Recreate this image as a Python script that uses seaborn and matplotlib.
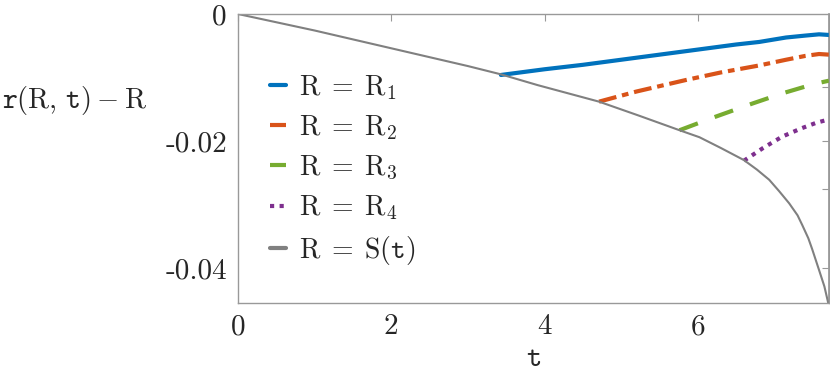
import numpy as np
import pandas as pd
import matplotlib
matplotlib.use("Agg")
from matplotlib import pyplot as plt
import seaborn as sns

# boundary curve R = S(t)
t_s = [0, 1, 2, 3, 3.43, 3.91, 4.71, 5.23, 5.76, 6.02, 6.3, 6.6, 6.77, 6.93, 7.06, 7.19,
       7.30, 7.36, 7.44, 7.49, 7.58, 7.65, 7.70]
v_s = [0, -0.0026, -0.0054, -0.0082, -0.0095, -0.0112, -0.0138, -0.0160, -0.0183, -0.0194,
       -0.0211, -0.0230, -0.0245, -0.0261, -0.0279, -0.0298, -0.0317, -0.0332, -0.0353,
       -0.0370, -0.0403, -0.0429, -0.0455]

# trajectories R = R_i
t_1 = [3.43, 4.0, 4.5, 5.0, 5.5, 6.0, 6.5, 6.8, 7.15, 7.4, 7.58, 7.71]
v_1 = [-0.0096, -0.0087, -0.0080, -0.0072, -0.0064, -0.0056, -0.0048, -0.0044, -0.0037, -0.0034, -0.0032, -0.0033]
t_2 = [4.71, 5.2, 5.84, 6.3, 6.8, 7.15, 7.4, 7.58, 7.71]
v_2 = [-0.0138, -0.0122, -0.0104, -0.0092, -0.0081, -0.0072, -0.0066, -0.0063, -0.0064]
t_3 = [5.76, 6.2, 6.71, 7.1, 7.52, 7.71]
v_3 = [-0.0183, -0.0163, -0.0141, -0.0125, -0.0110, -0.0105]
t_4 = [6.60, 6.85, 7.10, 7.35, 7.55, 7.71]
v_4 = [-0.0231, -0.0211, -0.0193, -0.0180, -0.0171, -0.0166]

labels = [r"$\mathrm{R} \;=\; \mathrm{R}_1$", r"$\mathrm{R} \;=\; \mathrm{R}_2$",
          r"$\mathrm{R} \;=\; \mathrm{R}_3$", r"$\mathrm{R} \;=\; \mathrm{R}_4$",
          r"$\mathrm{R} \;=\; \mathrm{S}(\mathtt{t})$"]
colors = ["#0072BD", "#D95319", "#77AC30", "#7E2F8E", "#808080"]
styles = ["-", (0, (4.3, 1.4, 1.6, 1.4)), (0, (4.7, 4.3)), (0, (1.0, 1.3)), "-"]
widths = [3.0, 3.0, 3.0, 3.0, 1.5]

sns.set_theme(style="white")
plt.rcParams["font.family"] = ["cmr10", "DejaVu Serif"]
plt.rcParams["mathtext.fontset"] = "cm"
plt.rcParams["axes.unicode_minus"] = False
plt.rcParams["axes.formatter.use_mathtext"] = False

fig, ax = plt.subplots(figsize=(8.3, 3.77), dpi=100)
fig.subplots_adjust(left=238 / 830, right=829 / 830, top=1 - 14 / 377, bottom=1 - 303 / 377)

series = [(t_1, v_1), (t_2, v_2), (t_3, v_3), (t_4, v_4), (t_s, v_s)]
for (tt, vv), lab, c, ls, lw in zip(series, labels, colors, styles, widths):
    df = pd.DataFrame({"t": tt, "v": vv})
    sns.lineplot(data=df, x="t", y="v", ax=ax, color=c, linestyle=ls,
                 linewidth=lw, label=lab, sort=False)

ax.set_xlim(0, 7.71)
ax.set_ylim(-0.0455, 0)
ax.set_xticks([0, 2, 4, 6])
ax.set_xticklabels(["0", "2", "4", "6"])
ax.set_yticks([-0.04, -0.02, 0])
ax.set_yticklabels(["-0.04", "-0.02", "0"])
ax.tick_params(axis="both", direction="in", length=5, width=0.8, color="#999999",
               labelsize=21, top=True, pad=8)
ax.tick_params(axis="y", right=False)
for s in ax.spines.values():
    s.set_color("#999999")
    s.set_linewidth(1.0)

# extra right-hand ticks
sec = ax.secondary_yaxis("right")
sec.set_yticks([-0.0115, -0.02, -0.0276, -0.04])
sec.set_yticklabels([])
sec.tick_params(direction="in", length=5, width=0.8, color="#999999")
sec.spines["right"].set_color("#999999")

ax.set_xlabel(r"$\mathtt{t}$", fontsize=21, labelpad=4)
ax.set_ylabel(r"$\mathtt{r}(\mathrm{R},\,\mathtt{t}) - \mathrm{R}$", fontsize=20.5, rotation=0,
              ha="center", va="center")
ax.yaxis.set_label_coords(-0.277, 0.70)

leg = ax.legend(loc="upper left", bbox_to_anchor=(0.035, 0.835), frameon=False,
                fontsize=20, handlelength=0.6, handletextpad=0.45, labelspacing=0.42,
                borderaxespad=0)
for h in leg.get_lines():
    h.set_linewidth(3.0)

fig.savefig("out.png", dpi=100)
